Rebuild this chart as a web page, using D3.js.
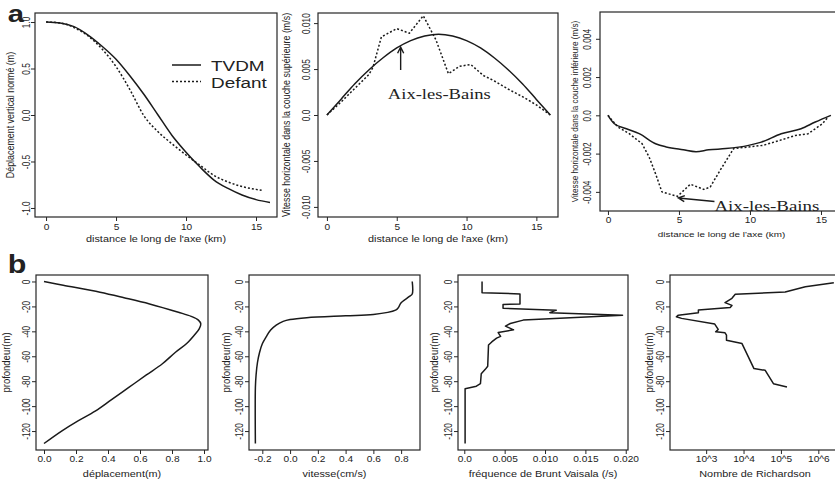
<!DOCTYPE html>
<html><head><meta charset="utf-8">
<script src="https://cdn.jsdelivr.net/npm/d3@7"></script>
<style>
body{margin:0;background:#fff}
svg text{font-family:"Liberation Sans",Arial,Helvetica,sans-serif;fill:#222}
</style>
</head><body>
<svg id="c" width="835" height="485"></svg>
<script>
// ---------- DATA ----------
// a1: normalised vertical displacement vs distance along the axis (km)
const kmTVDM1 = [0,1,2,3,4,5,6,7,8,9,10,11,12,13,14,15,16];
const dispTVDM = [1.0,0.99,0.95,0.86,0.74,0.60,0.42,0.22,0.0,-0.22,-0.40,-0.56,-0.70,-0.79,-0.86,-0.91,-0.94];
const kmDefant1 = [0,1,2,3,4,5,6,7,8,9,10,11,12,13,14,15,15.4];
const dispDefant = [1.0,0.99,0.94,0.85,0.71,0.52,0.27,-0.01,-0.18,-0.31,-0.43,-0.54,-0.65,-0.72,-0.77,-0.80,-0.81];
// a2: horizontal velocity, upper layer (m/s)
const kmTVDM2 = [0,1,2,3,4,5,6,7,8,9,10,11,12,13,14,15,16];
const velUpTVDM = [0,0.0017,0.0034,0.0049,0.0062,0.0073,0.0081,0.0086,0.0088,0.0086,0.0081,0.0073,0.0062,0.0049,0.0034,0.0017,0];
const kmDefant2 = [0,1,2,3,3.3,3.9,5.0,5.9,6.9,7.8,8.7,9.5,10.3,11.2,12,13,14,15,16];
const velUpDefant = [0,0.0014,0.0029,0.0044,0.0052,0.0085,0.0094,0.0089,0.0108,0.0082,0.0045,0.0053,0.0055,0.0043,0.0037,0.0028,0.0020,0.0011,0];
// a3: horizontal velocity, lower layer (m/s)
const kmTVDM3 = [0,0.45,1.3,2.2,3.4,4.1,5.3,6.2,7.1,8.3,9.9,10.8,12.2,13.6,14.6,15.7];
const velLoTVDM = [0,-0.00044,-0.0007,-0.00096,-0.0015,-0.00165,-0.0018,-0.0019,-0.0018,-0.00174,-0.00157,-0.0014,-0.00096,-0.0007,-0.00035,0];
const kmDefant3 = [0,0.7,1.5,2.4,2.9,3.35,3.8,4.2,4.9,5.8,6.75,7.2,7.9,8.85,9.8,10.9,12.1,13.2,14.1,15.1,15.5];
const velLoDefant = [0,-0.00061,-0.00096,-0.00148,-0.00218,-0.00305,-0.0040,-0.00409,-0.00423,-0.0036,-0.00387,-0.00375,-0.00287,-0.00174,-0.00166,-0.00157,-0.00131,-0.00105,-0.00096,-0.00044,-0.00009];
// b1: displacement profile
const dispProf = [0,0.12,0.35,0.5,0.66,0.84,0.92,0.965,0.98,0.97,0.94,0.89,0.82,0.74,0.64,0.53,0.42,0.32,0.21,0.11,0];
const depthDisp = [0,-3,-8.6,-13,-18,-24.7,-28,-31,-34,-38,-43,-50,-57,-66,-75,-85,-95,-104,-112,-120,-130];
// b2: velocity profile (cm/s)
const velProf = [0.88,0.88,0.86,0.80,0.78,0.76,0.60,0.40,0.12,0.0,-0.05,-0.10,-0.14,-0.17,-0.20,-0.22,-0.235,-0.245,-0.25,-0.25];
const depthVel = [0,-10,-12,-17,-21,-23,-26.5,-27.5,-29,-30.5,-32,-35,-39,-44,-50,-57,-65,-75,-85,-130];
// b3: Brunt-Vaisala frequency (/s)
const bvFreq = [0.0022,0.0022,0.0069,0.0069,0.0048,0.0048,0.0114,0.0106,0.0196,0.0073,0.0057,0.0051,0.0061,0.0042,0.0045,0.0040,0.0034,0.0030,0.0029,0.0026,0.0021,0.0020,0.0015,0.0001,0.0001];
const depthBV = [0,-9,-10,-18,-18.5,-21.5,-23,-25,-27,-31,-33.7,-35.8,-38.8,-41,-44,-45.5,-48.5,-51,-68,-70.5,-74,-82,-84,-86,-130];
// b4: Richardson number
const richardson = [2.6e6,4.5e5,1.3e5,6000,4900,3200,4900,4400,620,620,180,160,220,1700,2100,1800,3200,3500,3500,9100,1.9e4,3.8e4,6.3e4,1.45e5];
const depthRi = [-1,-4.2,-8.5,-10.3,-13.5,-17,-19.2,-20.8,-22.9,-25.1,-27,-28.3,-29.6,-34.2,-38.5,-40.4,-41.2,-43,-47.1,-49.8,-69.9,-71.3,-82,-84.7];
// ticks
const kmTicks = [0,5,10,15];
const kmTickLabels = ["0","5","10","15"];
const a1YTicks = [1,0.5,0,-0.5,-1];
const a1YTickLabels = ["1.0","0.5","0.0","-0.5","-1.0"];
const a2YTicks = [0.01,0.005,0,-0.005,-0.01];
const a2YTickLabels = ["0.010","0.005","0.0","-0.005","-0.010"];
const a3YTicks = [0.004,0.002,0,-0.002,-0.004];
const a3YTickLabels = ["0.004","0.002","0.0","-0.002","-0.004"];
const depthTicks = [0,-20,-40,-60,-80,-100,-120];
const depthTickLabels = ["0","-20","-40","-60","-80","-100","-120"];
const b1XTicks = [0,0.2,0.4,0.6,0.8,1.0];
const b1XTickLabels = ["0.0","0.2","0.4","0.6","0.8","1.0"];
const b2XTicks = [-0.2,0,0.2,0.4,0.6,0.8];
const b2XTickLabels = ["-0.2","0.0","0.2","0.4","0.6","0.8"];
const b3XTicks = [0,0.005,0.01,0.015,0.02];
const b3XTickLabels = ["0.0","0.005","0.010","0.015","0.020"];
const b4XTicks = [1e3,1e4,1e5,1e6];
const b4XTickLabels = ["10^3","10^4","10^5","10^6"];
const legendNames = ["TVDM","Defant"];

// ---------- DRAWING ----------
const SX = 1.22; // the scanned figure is stretched horizontally
const svg = d3.select("#c");
const INK = "#1a1a1a";

function txt(g, x, y, s, o = {}) {
  const t = g.append("text")
    .attr("transform", `translate(${x},${y}) scale(${SX},1)` + (o.rot ? " rotate(-90)" : ""))
    .attr("text-anchor", o.anchor || "middle")
    .style("font-size", (o.size || 8) + "px")
    .text(s);
  if (o.family) t.style("font-family", o.family);
  if (o.weight) t.style("font-weight", o.weight);
  return t;
}

function panel(c) {
  const g = svg.append("g");
  const x = (c.log ? d3.scaleLog() : d3.scaleLinear()).domain(c.xd).range([c.L, c.R]);
  const y = d3.scaleLinear().domain(c.yd).range([c.B, c.T]);
  g.append("rect").attr("x", c.L).attr("y", c.T).attr("width", c.R - c.L).attr("height", c.B - c.T)
    .attr("fill", "none").attr("stroke", "#262626").attr("stroke-width", 1.2);
  const xa = g.append("g").attr("transform", `translate(0,${c.B})`)
    .call(d3.axisBottom(x).tickValues(c.xt).tickFormat((d, i) => c.xtl[i]).tickSizeInner(4).tickSizeOuter(0));
  xa.select(".domain").remove();
  xa.selectAll("line").attr("stroke", "#262626");
  xa.selectAll("text").attr("y", 0).attr("dy", "0.71em")
    .attr("transform", `translate(0,${c.xpad}) scale(${SX},1)`)
    .attr("font-size", c.tf + "px").attr("font-family", null).attr("fill", null);
  const ya = g.append("g").attr("transform", `translate(${c.L},0)`)
    .call(d3.axisLeft(y).tickValues(c.yt).tickFormat((d, i) => c.ytl[i]).tickSizeInner(4).tickSizeOuter(0));
  ya.select(".domain").remove();
  ya.selectAll("line").attr("stroke", "#262626");
  ya.selectAll("text").attr("x", 0).attr("dy", null).attr("text-anchor", "middle")
    .attr("transform", `translate(${-c.ypad},0) scale(${SX},1) rotate(-90)`)
    .attr("font-size", c.tf + "px").attr("font-family", null).attr("fill", null);
  txt(g, (c.L + c.R) / 2 + (c.xtdx || 0), c.xty, c.xtitle, { size: c.titf });
  txt(g, c.ytx, (c.T + c.B) / 2 + (c.ytdy || 0), c.ytitle, { size: c.ytitf || c.titf, rot: true });
  return { g, x, y };
}

function drawLine(p, xs, ys, opts = {}) {
  const pts = xs.map((v, i) => [v, ys[i]]);
  const line = d3.line().x(d => p.x(d[0])).y(d => p.y(d[1])).curve(opts.curve || d3.curveLinear);
  p.g.append("path").attr("d", line(pts)).attr("fill", "none").attr("stroke", INK)
    .attr("stroke-width", opts.w || 1.5).attr("stroke-dasharray", opts.dash || null)
    .attr("stroke-linejoin", "round");
}

function arrow(p, x0, y0, x1, y1) {
  const X0 = p.x(x0), Y0 = p.y(y0), X1 = p.x(x1), Y1 = p.y(y1);
  const a = Math.atan2(Y1 - Y0, X1 - X0), L = 7, s = 0.45;
  p.g.append("path")
    .attr("d", `M${X0},${Y0}L${X1},${Y1}M${X1 - L * Math.cos(a - s)},${Y1 - L * Math.sin(a - s)}L${X1},${Y1}L${X1 - L * Math.cos(a + s)},${Y1 - L * Math.sin(a + s)}`)
    .attr("fill", "none").attr("stroke", INK).attr("stroke-width", 1.4);
}

const topCommon = { xt: kmTicks, xtl: kmTickLabels, tf: 8.3, titf: 8.9, xtitle: "distance le long de l'axe (km)" };

// a1
const p1 = panel(Object.assign({}, topCommon, {
  L: 35, R: 277, T: 13, B: 217, xd: [-0.79, 16.5], yd: [-1.097, 1.097],
  yt: a1YTicks, ytl: a1YTickLabels, xpad: 7, ypad: 5, xty: 242, ytx: 14,
  ytitle: "Déplacement vertical normé (m)"
}));
drawLine(p1, kmTVDM1, dispTVDM, { curve: d3.curveMonotoneX });
drawLine(p1, kmDefant1, dispDefant, { curve: d3.curveMonotoneX, dash: "2,2" });
[0, 1].forEach(i => {
  const yy = 65 + i * 16.5;
  p1.g.append("line").attr("x1", 172).attr("x2", 201).attr("y1", yy).attr("y2", yy)
    .attr("stroke", INK).attr("stroke-width", 1.5).attr("stroke-dasharray", i ? "2,2" : null);
  txt(p1.g, 211, yy + 6, legendNames[i], { size: 15.5, anchor: "start" });
});

// a2
const p2 = panel(Object.assign({}, topCommon, {
  L: 318, R: 558, T: 13, B: 217, xd: [-0.64, 16.55], yd: [-0.0111, 0.0111],
  yt: a2YTicks, ytl: a2YTickLabels, xpad: 7, ypad: 8, xty: 242, ytx: 290,
  ytitle: "Vitesse horizontale dans la couche supérieure (m/s)"
}));
drawLine(p2, kmTVDM2, velUpTVDM, { curve: d3.curveMonotoneX });
drawLine(p2, kmDefant2, velUpDefant, { dash: "2,2" });
arrow(p2, 5.28, 0.0049, 5.28, 0.0074);
txt(p2.g, p2.x(8.05), p2.y(0.00172), "Aix-les-Bains", { size: 15.2, family: "'Liberation Serif','Times New Roman',serif" });

// a3
const p3 = panel(Object.assign({}, topCommon, {
  L: 600, R: 843, T: 12, B: 211, xd: [-0.56, 16.55], yd: [-0.0050, 0.0054],
  yt: a3YTicks, ytl: a3YTickLabels, xpad: 6, ypad: 9, xty: 237, ytx: 578, titf: 8.1,
  ytitle: "Vitesse horizontale dans la couche inférieure (m/s)"
}));
drawLine(p3, kmTVDM3, velLoTVDM, { curve: d3.curveMonotoneX });
drawLine(p3, kmDefant3, velLoDefant, { dash: "2,2" });
arrow(p3, 7.5, -0.0045, 4.95, -0.00432);
txt(p3.g, p3.x(7.5), p3.y(-0.00498), "Aix-les-Bains", { size: 15.5, anchor: "start", family: "'Liberation Serif','Times New Roman',serif" });

// bottom row
const botCommon = { T: 275, B: 450, yd: [-135.2, 5.2], yt: depthTicks, ytl: depthTickLabels, tf: 8.3, titf: 8.9, ytitf: 9.5, xpad: 6, ypad: 6, xty: 477, ytitle: "profondeur(m)" };
const q1 = panel(Object.assign({}, botCommon, {
  L: 36, R: 208, xd: [-0.05, 1.025], xt: b1XTicks, xtl: b1XTickLabels, ytx: 10, xtitle: "déplacement(m)"
}));
drawLine(q1, dispProf, depthDisp, { curve: d3.curveCatmullRom });

const q2 = panel(Object.assign({}, botCommon, {
  L: 249, R: 420, xd: [-0.296, 0.936], xt: b2XTicks, xtl: b2XTickLabels, ytx: 230, xtitle: "vitesse(cm/s)"
}));
drawLine(q2, velProf, depthVel, { curve: d3.curveCatmullRom });

const q3 = panel(Object.assign({}, botCommon, {
  L: 458, R: 628, xd: [-0.00078, 0.02028], xt: b3XTicks, xtl: b3XTickLabels, ytx: 438, xtitle: "fréquence de Brunt Vaisala (/s)"
}));
drawLine(q3, bvFreq, depthBV);

const q4 = panel(Object.assign({}, botCommon, {
  L: 670, R: 840, log: true, xd: [108, 3.8e6], xt: b4XTicks, xtl: b4XTickLabels, ytx: 653, xtitle: "Nombre de Richardson"
}));
drawLine(q4, richardson, depthRi);

// panel letters
txt(svg, 16, 22, "a", { size: 24, weight: "bold" });
txt(svg, 17, 273, "b", { size: 25, weight: "bold" });
</script>
</body></html>
